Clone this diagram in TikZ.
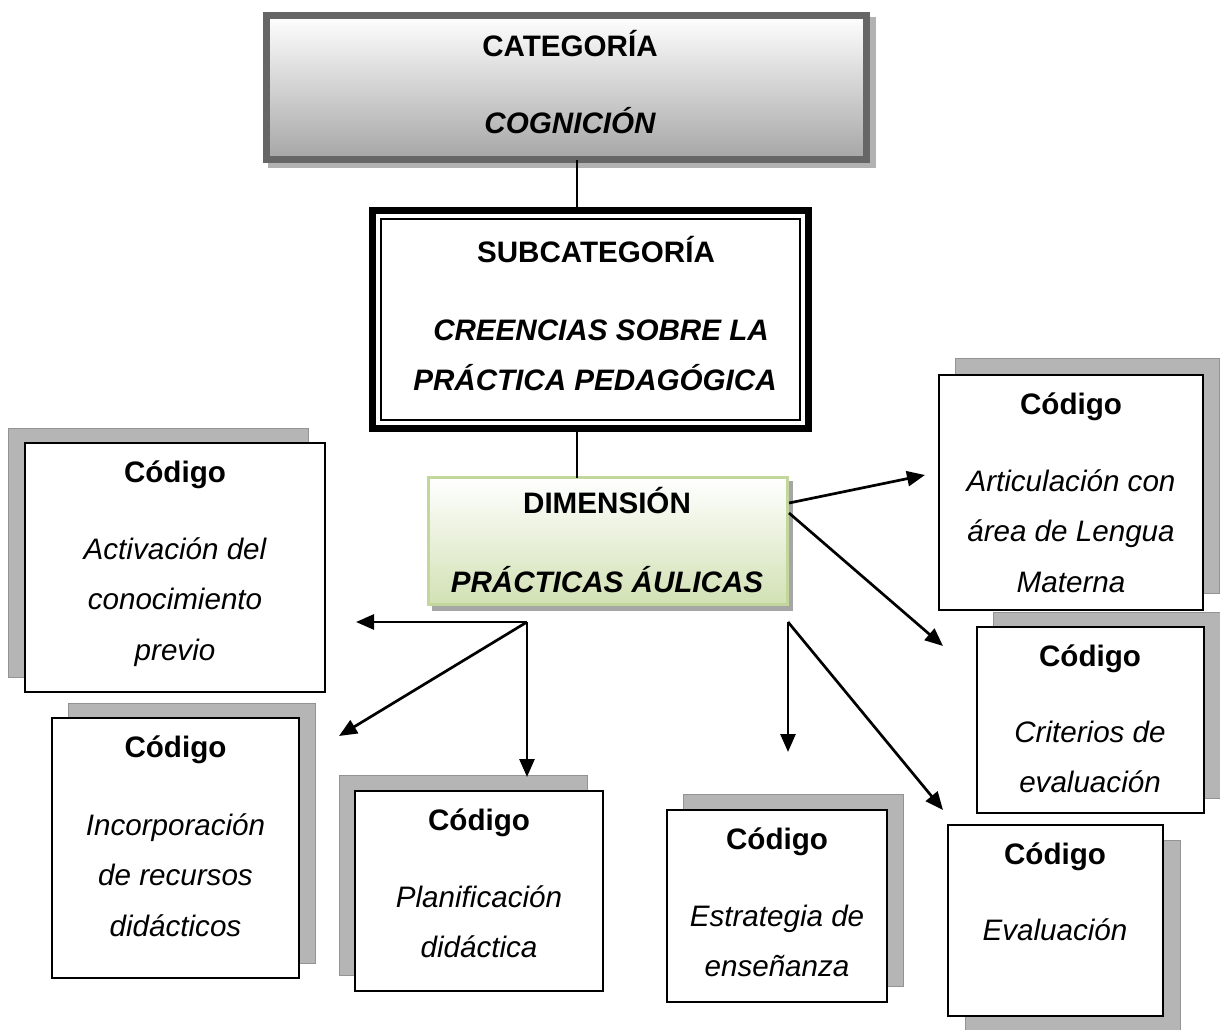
\documentclass[tikz,border=0pt]{standalone}
\usepackage{fontspec}
\setmainfont{Liberation Sans}
\usetikzlibrary{arrows.meta}
\definecolor{dimborder}{HTML}{C3D69B}
\definecolor{dimfill}{HTML}{D2E1B4}
\definecolor{catborder}{HTML}{666666}
\newcommand\cbox[7]{%
  \path[shadowbox] (#2+#6,#3+#7) rectangle ++(#4,#5);
  \node[codebox,anchor=north west,minimum width=#4pt,minimum height=#5pt] (#1) at (#2,#3) {};
}
\begin{document}
\begin{tikzpicture}[x=1pt,y=-1pt,
  every node/.style={outer sep=0pt,inner sep=0pt},
  bt/.style={anchor=base,font=\fontsize{29.6}{34}\selectfont\bfseries},
  bit/.style={anchor=base,font=\fontsize{29.6}{34}\selectfont\bfseries\itshape},
  it/.style={anchor=base,font=\fontsize{29.6}{34}\selectfont\itshape},
  shadowbox/.style={fill=gray!58,draw=gray!85,line width=1pt},
  codebox/.style={draw=black,line width=1.8pt,fill=white},
  conn/.style={line width=1.6pt},
  arr/.style={line width=2.7pt,-{Triangle[length=18pt,width=15pt]}}
]
\useasboundingbox (0,0) rectangle (1220,1030);

% CATEGORIA
\path[fill=gray!60] (268,17) rectangle (876,168);
\node[draw=catborder,line width=7pt,top color=white,bottom color=gray!70,
  anchor=north west,minimum width=600pt,minimum height=144pt] (cat) at (266.5,15.5) {};
\node[bt] (catt1) at (570,57) {CATEGORÍA};
\node[bit] (catt2) at (570,134) {COGNICIÓN};

% SUBCATEGORIA
\node[draw=black,line width=7pt,fill=white,anchor=north west,
  minimum width=436pt,minimum height=218pt] (sub) at (372.5,210.5) {};
\draw[line width=1.5pt] (381,219) rectangle (800,420);
\node[bt] (subt1) at (596,262) {SUBCATEGORÍA};
\node[bit] (subt2) at (601,340) {CREENCIAS SOBRE LA};
\node[bit] (subt3) at (595,390) {PRÁCTICA PEDAGÓGICA};

% DIMENSION
\path[fill=gray!70] (432,481) rectangle (793,611);
\node[draw=dimborder,line width=3pt,top color=white,bottom color=dimfill,
  anchor=north west,minimum width=359pt,minimum height=127pt] (dim) at (428.5,477.5) {};
\node[bt] (dimt1) at (607,513) {DIMENSIÓN};
\node[bit] (dimt2) at (607,592) {PRÁCTICAS ÁULICAS};

% connectors
\coordinate (cx) at (577,0);
\draw[conn] (cat.south -| cx) -- (sub.north -| cx);
\draw[conn] (sub.south -| cx) -- (dim.north -| cx);

% code boxes
\cbox{b1}{25}{443}{300}{249}{-17}{-15}
\cbox{b2}{52}{718}{247}{260}{16}{-15}
\cbox{b3}{355}{791}{248}{200}{-16}{-16}
\cbox{b4}{667}{810}{220}{192}{16}{-16}
\cbox{b5}{948}{825}{215}{191}{17}{15}
\cbox{b6}{977}{627}{227}{186}{16}{-15}
\cbox{b7}{939}{375}{264}{235}{16}{-17}

% texts
\node[bt] (b1t0) at (175,482) {Código};
\node[it] (b1t1) at (175,559) {Activación del};
\node[it] (b1t2) at (175,609.5) {conocimiento};
\node[it] (b1t3) at (175,660) {previo};

\node[bt] (b2t0) at (175.5,757) {Código};
\node[it] (b2t1) at (175.5,835) {Incorporación};
\node[it] (b2t2) at (175.5,885.5) {de recursos};
\node[it] (b2t3) at (175.5,936) {didácticos};

\node[bt] (b3t0) at (479,830) {Código};
\node[it] (b3t1) at (479,907) {Planificación};
\node[it] (b3t2) at (479,957.5) {didáctica};

\node[bt] (b4t0) at (777,849) {Código};
\node[it] (b4t1) at (777,926) {Estrategia de};
\node[it] (b4t2) at (777,976.5) {enseñanza};

\node[bt] (b5t0) at (1055,864) {Código};
\node[it] (b5t1) at (1055,940) {Evaluación};

\node[bt] (b6t0) at (1090,666) {Código};
\node[it] (b6t1) at (1090,742) {Criterios de};
\node[it] (b6t2) at (1090,792.5) {evaluación};

\node[bt] (b7t0) at (1071,414) {Código};
\node[it] (b7t1) at (1071,491) {Articulación con};
\node[it] (b7t2) at (1071,541.5) {área de Lengua};
\node[it] (b7t3) at (1071,592) {Materna};

% arrows
\coordinate (p1) at (527,622);
\coordinate (p2) at (788,622);
\coordinate (e1) at (356,622);
\coordinate (e2) at (339,736);
\coordinate (e3) at (527,777);
\coordinate (e4) at (788,752);
\coordinate (e5) at (943,810);
\coordinate (s6) at (789,513);
\coordinate (e6) at (943,646);
\coordinate (s7) at (789,503);
\coordinate (e7) at (925,475);
\draw[arr] (p1) -- (e1);
\draw[arr] (p1) -- (e2);
\draw[arr] (p1) -- (e3);
\draw[arr] (p2) -- (e4);
\draw[arr] (p2) -- (e5);
\draw[arr] (s6) -- (e6);
\draw[arr] (s7) -- (e7);
\end{tikzpicture}
\end{document}
